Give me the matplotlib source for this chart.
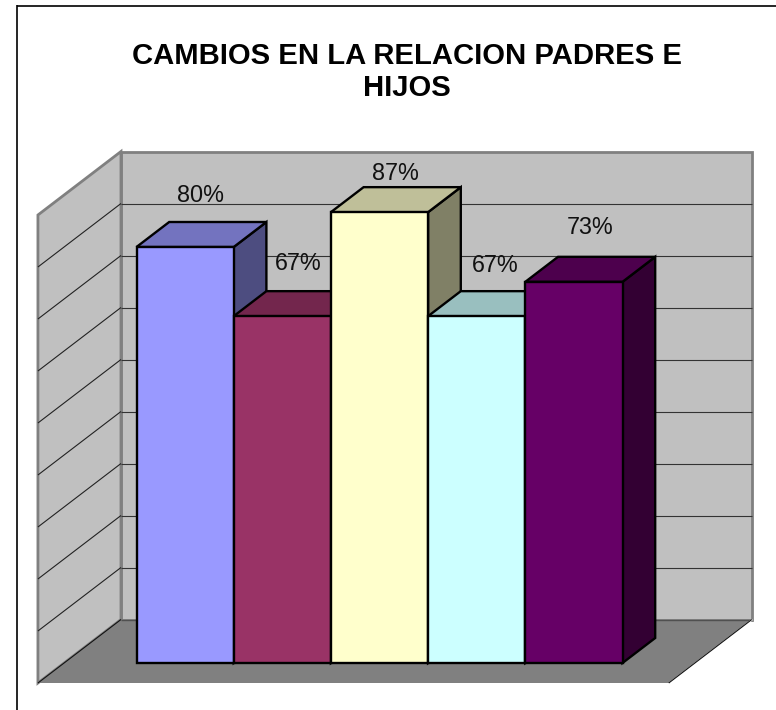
import matplotlib
matplotlib.use("Agg")
import matplotlib.pyplot as plt
from matplotlib.patches import Polygon

plt.rcParams['font.family'] = ['Liberation Sans', 'DejaVu Sans']

# Data
title_lines = ["CAMBIOS EN LA RELACION PADRES E", "HIJOS"]
values = [80.0, 66.7, 86.7, 66.7, 73.3]
labels = ["80%", "67%", "87%", "67%", "73%"]
front_colors = ["#9999FF", "#993366", "#FFFFCC", "#CCFFFF", "#660066"]
top_colors = ["#7373BF", "#73264D", "#BFBF99", "#99BFBF", "#4D004D"]
side_colors = ["#4D4D80", "#4D1A33", "#808066", "#668080", "#330033"]
grid_values = [10, 20, 30, 40, 50, 60, 70, 80, 90]

# Layout: pixel scale of the oblique projection
W, H = 776, 710
PX_CAT, PX_VAL = 97.2, 5.2
X0, Y0 = 136.5, 663.0
DX, DY = 32.7, 25.0
D_BACK, D_FRONT = 1.74, -0.8
C_LEFT, C_RIGHT = -0.745, 5.745
V_MAX = 90
label_px = [(201, 196), (298, 263), (395, 173), (495, 266), (590, 227)]

fig = plt.figure(figsize=(W / 100, H / 100), dpi=100, facecolor="white")
ax = fig.add_axes([0, 0, 1, 1])
ax.set_xlim(-X0 / PX_CAT, (W - X0) / PX_CAT)
ax.set_ylim((Y0 - H) / PX_VAL, Y0 / PX_VAL)
ax.axis("off")


def P(c, v, d=0.0):
    return (c + d * DX / PX_CAT, v + d * DY / PX_VAL)


def PX(x, y):
    return ((x - X0) / PX_CAT, (Y0 - y) / PX_VAL)


def poly(pts, fc, ec, lw, z, join="miter"):
    ax.add_patch(Polygon(pts, closed=True, facecolor=fc, edgecolor=ec, linewidth=lw,
                         zorder=z, joinstyle=join))


def line(a, b, color, lw, z):
    ax.plot([a[0], b[0]], [a[1], b[1]], color=color, lw=lw, zorder=z, solid_capstyle="butt")


# Chart-area border (left and top)
line(PX(17, H), PX(17, 5), "black", 1.2, 1)
line(PX(16.5, 5.5), PX(W, 5.5), "black", 1.2, 1)

# Floor
poly([P(C_LEFT, 0, D_FRONT), P(C_LEFT, 0, D_BACK), P(C_RIGHT, 0, D_BACK), P(C_RIGHT, 0, D_FRONT)],
     "#808080", "none", 0, 2)
# Back wall
poly([P(C_LEFT, 0, D_BACK), P(C_LEFT, V_MAX, D_BACK), P(C_RIGHT, V_MAX, D_BACK), P(C_RIGHT, 0, D_BACK)],
     "#C0C0C0", "#808080", 2.0, 3)
# Left wall
poly([P(C_LEFT, 0, D_FRONT), P(C_LEFT, V_MAX, D_FRONT), P(C_LEFT, V_MAX, D_BACK), P(C_LEFT, 0, D_BACK)],
     "#C0C0C0", "#808080", 2.0, 3)
# Gridlines
for g in grid_values[:-1]:
    line(P(C_LEFT, g, D_BACK), P(C_RIGHT, g, D_BACK), "#333333", 0.8, 4)
    line(P(C_LEFT, g, D_FRONT), P(C_LEFT, g, D_BACK), "#222222", 0.8, 4)
# Floor edges
line(P(C_LEFT, 0, D_FRONT), P(C_LEFT, 0, D_BACK), "#111111", 0.8, 5)
line(P(C_LEFT, 0, D_BACK), P(C_RIGHT, 0, D_BACK), "#505050", 1.0, 5)
line(P(C_RIGHT + 0.006, 0, D_FRONT), P(C_RIGHT + 0.006, 0, D_BACK), "white", 1.2, 5)
line(P(C_RIGHT, 0, D_FRONT), P(C_RIGHT, 0, D_BACK), "#111111", 0.8, 5)

# Bars, painted left to right
BAR_LW = 1.7
for i, v in enumerate(values):
    z = 10 + i
    poly([P(i + 1, 0), P(i + 1, 0, 1), P(i + 1, v, 1), P(i + 1, v)], side_colors[i], "black", BAR_LW, z)
    poly([P(i, v), P(i, v, 1), P(i + 1, v, 1), P(i + 1, v)], top_colors[i], "black", BAR_LW, z)
    poly([P(i, 0), P(i, v), P(i + 1, v), P(i + 1, 0)], front_colors[i], "black", BAR_LW, z)

# Data labels
for (x, y), t in zip(label_px, labels):
    ax.text(*PX(x, y), t, ha="center", va="center", fontsize=16.8, color="#111111", zorder=30)

# Title
ax.text(*PX(407, 56), title_lines[0], ha="center", va="center", fontsize=21.1, fontweight="bold", color="black", zorder=30)
ax.text(*PX(407, 88), title_lines[1], ha="center", va="center", fontsize=21.1, fontweight="bold", color="black", zorder=30)

fig.savefig("out.png", dpi=100, facecolor="white")
